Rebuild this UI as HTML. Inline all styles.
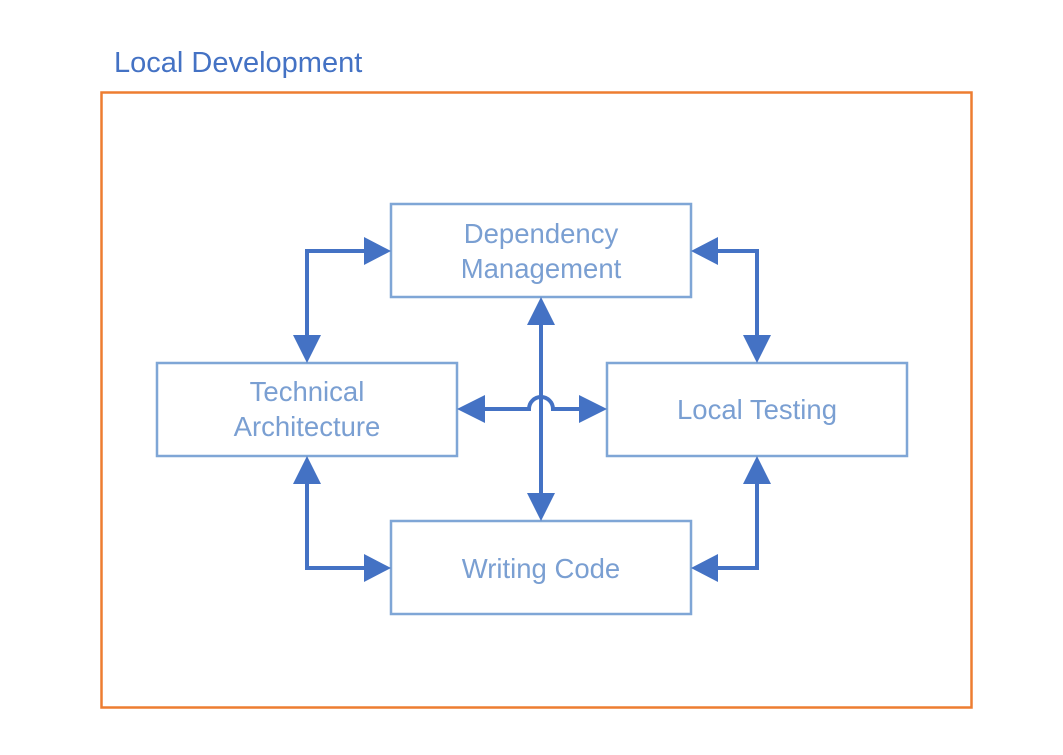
<!DOCTYPE html>
<html><head><style>body{margin:0;background:#fff}svg{display:block}</style></head>
<body>
<svg width="1063" height="755" xmlns="http://www.w3.org/2000/svg" font-family="Liberation Sans, sans-serif">
<text x="114" y="72" font-size="29" fill="#4472C4">Local Development</text>
<rect x="101.5" y="92.5" width="870" height="615" fill="none" stroke="#ED7D31" stroke-width="2.5"/>
<g fill="#fff" stroke="#7FA6D6" stroke-width="2.5">
<rect x="391" y="204" width="300" height="93"/>
<rect x="157" y="363" width="300" height="93"/>
<rect x="607" y="363" width="300" height="93"/>
<rect x="391" y="521" width="300" height="93"/>
</g>
<g fill="#7A9FD2" font-size="27.5" text-anchor="middle">
<text x="541" y="243">Dependency</text>
<text x="541" y="278">Management</text>
<text x="307" y="401">Technical</text>
<text x="307" y="436">Architecture</text>
<text x="757" y="419">Local Testing</text>
<text x="541" y="578">Writing Code</text>
</g>
<g fill="none" stroke="#4472C4" stroke-width="4">
<polyline points="307,336 307,251 364,251"/>
<polyline points="718,251 757,251 757,336"/>
<polyline points="307,483 307,568 364,568"/>
<polyline points="757,483 757,568 718,568"/>
<line x1="541" y1="324" x2="541" y2="494"/>
<path d="M484,409 H529 A12,12 0 0 1 553,409 H580"/>
</g>
<g fill="#4472C4">
<polygon points="293,335 321,335 307,363"/>
<polygon points="364,237 364,265 391,251"/>
<polygon points="718,237 718,265 691,251"/>
<polygon points="743,335 771,335 757,363"/>
<polygon points="293,484 321,484 307,456"/>
<polygon points="364,554 364,582 391,568"/>
<polygon points="743,484 771,484 757,456"/>
<polygon points="718,554 718,582 691,568"/>
<polygon points="527,325 555,325 541,297"/>
<polygon points="527,493 555,493 541,521"/>
<polygon points="485,395 485,423 457,409"/>
<polygon points="579,395 579,423 607,409"/>
</g>
</svg>
</body></html>
